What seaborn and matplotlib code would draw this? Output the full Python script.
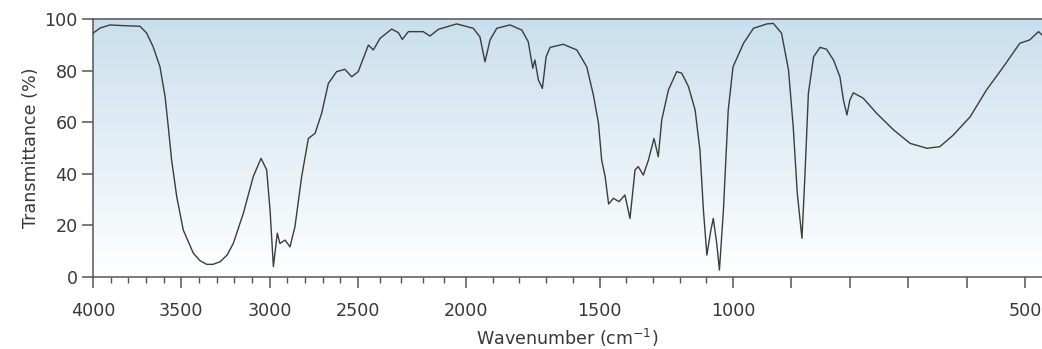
import numpy as np
import pandas as pd
import matplotlib
matplotlib.use("Agg")
import matplotlib.pyplot as plt
import seaborn as sns

# IR spectrum (wavenumber in cm-1, transmittance in %)
wavenumber = [4000, 3960, 3904, 3819, 3734, 3696, 3660, 3621, 3592, 3574, 3555, 3526,
              3489, 3432, 3394, 3356, 3321, 3281, 3241, 3206, 3149, 3093, 3049, 3017,
              2998, 2979, 2957, 2942, 2913, 2885, 2857, 2819, 2781, 2743, 2706, 2668,
              2621, 2574, 2536, 2499, 2452, 2429, 2398, 2344, 2313, 2295, 2267, 2198,
              2167, 2128, 2043, 1973, 1948, 1929, 1910, 1885, 1835, 1791, 1767, 1750,
              1742, 1729, 1714, 1700, 1685, 1636, 1585, 1548, 1523, 1504, 1492, 1479,
              1466, 1448, 1427, 1405, 1386, 1367, 1355, 1336, 1317, 1296, 1280, 1267,
              1242, 1211, 1192, 1167, 1142, 1124, 1111, 1098, 1083, 1074, 1061, 1051,
              1036, 1018, 1000, 982, 965, 942, 931, 917, 905, 897, 890, 882, 877, 871,
              862, 851, 840, 828, 817, 811, 805, 800, 794, 777, 754, 725, 697, 668, 646,
              623, 594, 566, 537, 509, 492, 477, 471]
transmittance = [94.5, 96.5, 97.7, 97.4, 97.2, 94.5, 89.3, 81.5, 69.9, 58.3, 45.3, 31.1,
                 18.2, 9.2, 6.3, 4.9, 4.9, 5.9, 8.5, 13, 24.7, 38.9, 46, 41.5,
                 26, 4, 17, 13, 14.3, 11.7, 19.5, 38.9, 53.7, 55.7, 63.4, 75,
                 79.6, 80.5, 77.6, 79.6, 89.9, 88, 92.5, 96.1, 94.7, 92.1, 95.1, 95.1,
                 93.4, 96, 98.1, 96.4, 93.1, 83.4, 91.9, 96.4, 97.7, 95.7, 91.2, 80.9,
                 84.1, 76.4, 73.1, 85.4, 89, 90.2, 88, 81.5, 70.5, 59.6, 45.3, 38.9,
                 28.3, 30.5, 29.2, 31.8, 22.7, 41.5, 42.8, 39.5, 45.3, 53.7, 46.6, 60.9,
                 72.5, 79.6, 79, 73.8, 64.7, 49.2, 26, 8.5, 18.2, 22.7, 13, 2.7,
                 26, 64.7, 81.5, 90.6, 96.4, 98.1, 98.3, 94.5, 80.2, 58.3, 32.4, 15, 38.9, 71.2,
                 85.4, 89, 88.3, 84.1, 77.6, 68.6, 62.8, 68.6, 71.4, 69.3, 63.4, 57, 51.8, 49.9, 50.5,
                 55, 62.1, 72.5, 81.5, 90.6, 91.9, 95.1, 93.8]

labeled_ticks = [4000, 3500, 3000, 2500, 2000, 1500, 1000, 900, 800, 700, 600, 500]
tick_labels = ["4000", "3500", "3000", "2500", "2000", "1500", "1000", "", "", "", "", "500"]
minor_ticks = [w for w in range(3900, 1000, -100) if w % 500 != 0]
y_ticks = [0, 20, 40, 60, 80, 100]

df = pd.DataFrame({"wavenumber": wavenumber, "transmittance": transmittance})

sns.set_style("ticks")
plt.rcParams["font.family"] = ["DejaVu Sans"]
plt.rcParams["mathtext.default"] = "regular"

# the chart uses a piecewise-linear wavenumber axis (expanded below 1000 and 2000)
_nu = np.array([0, 500, 1000, 2000, 2500, 4000, 5000], dtype=float)
_pos = -np.array([1317, 1025, 733, 466, 358, 93, -84], dtype=float)


def fwd(v):
    return np.interp(v, _nu, _pos)


def inv(p):
    return np.interp(p, _pos, _nu)


fig = plt.figure(figsize=(10.42, 3.49), dpi=100)
ax = fig.add_axes([93 / 1042, 72 / 349, 949 / 1042, 258 / 349])
ax.set_xscale("function", functions=(fwd, inv))

# light blue to white background
top = np.array([0.79, 0.875, 0.93])
bottom = np.array([1.0, 1.0, 1.0])
t = np.linspace(0, 1, 256)[:, None]
grad = (top * (1 - t) + bottom * t).reshape(256, 1, 3)
ax.imshow(grad, extent=[0, 1, 0, 1], transform=ax.transAxes, aspect="auto", zorder=0)

sns.lineplot(data=df, x="wavenumber", y="transmittance", ax=ax, color="#3c3c3c",
             linewidth=1.0, estimator=None, sort=False, zorder=3)

ax.set_xlim(4000, 471)
ax.set_ylim(0, 100)
ax.set_xticks(labeled_ticks)
ax.set_xticklabels(tick_labels)
ax.set_xticks(minor_ticks, minor=True)
ax.set_yticks(y_ticks)

ink = "#383838"
spine_c = "#555555"
for side in ["left", "bottom", "top"]:
    ax.spines[side].set_color(spine_c)
    ax.spines[side].set_linewidth(1.1)
ax.spines["right"].set_visible(False)

fs = 12.6
ax.tick_params(axis="x", which="major", direction="out", length=8, width=1.1,
               color=spine_c, labelsize=fs, labelcolor=ink, pad=10, top=False)
ax.tick_params(axis="x", which="minor", direction="out", length=4, width=1.0,
               color=spine_c, top=False)
ax.tick_params(axis="y", direction="out", length=8, width=1.1, color=spine_c,
               labelsize=fs, labelcolor=ink, pad=3, right=False)

ax.set_xlabel("Wavenumber (cm$^{-1}$)", fontsize=fs, color=ink, labelpad=5)
ax.set_ylabel("Transmittance (%)", fontsize=fs, color=ink, labelpad=3)
ax.grid(False)

fig.savefig("out.png", dpi=100)
